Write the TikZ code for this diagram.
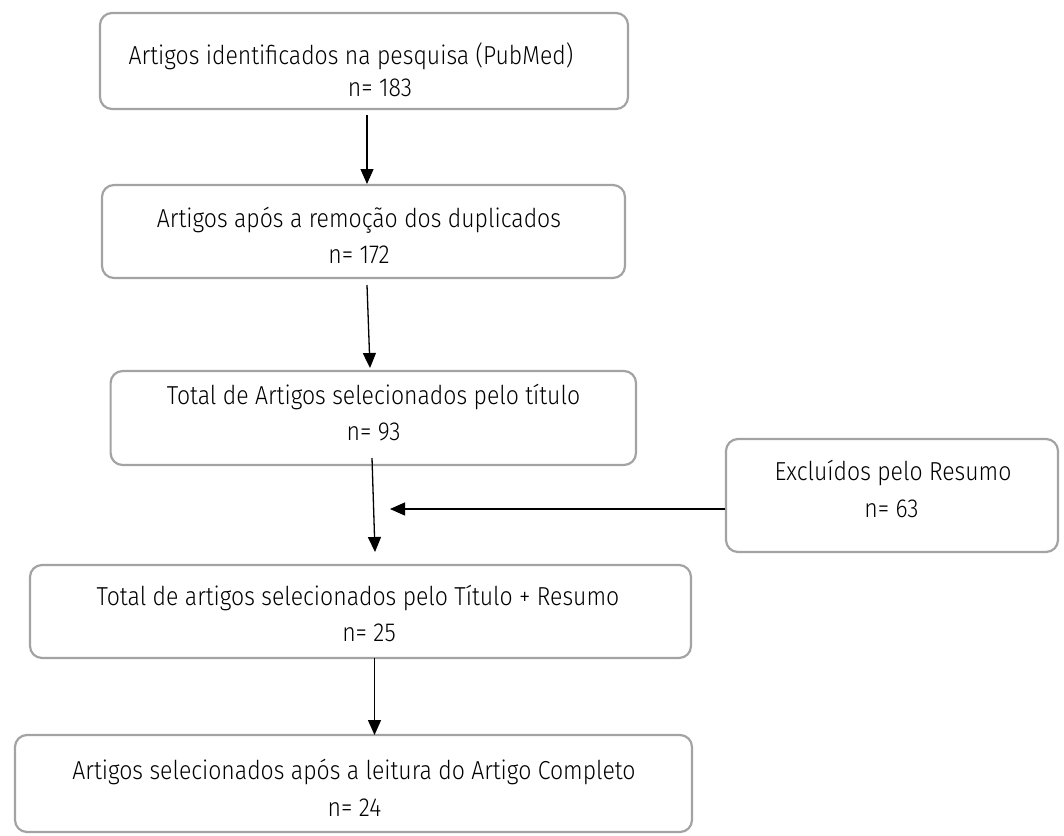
\documentclass[tikz,border=0pt]{standalone}
\usepackage{fontspec}
\setmainfont{Fira Sans}[UprightFont=* Light, FakeStretch=0.885]
\usetikzlibrary{arrows.meta}
\tikzset{
  flowbox/.style={draw=black!36, line width=2.2pt, rounded corners=12pt, fill=none},
  linetxt/.style={anchor=base, inner sep=0pt, font=\fontsize{26}{30}\selectfont},
  flowarrow/.style={draw=black, line width=1.3pt, -{Triangle[length=15pt,width=13pt]}}
}
\begin{document}
\begin{tikzpicture}[x=1pt,y=-1pt]
\useasboundingbox (0,0) rectangle (1064,835);
% boxes
\draw[flowbox] (100,13) rectangle (628,109);
\draw[flowbox] (102,185) rectangle (625,278);
\draw[flowbox] (110.6,371) rectangle (636,465);
\draw[flowbox] (726,439) rectangle (1058,552);
\draw[flowbox] (30,565) rectangle (691,658);
\draw[flowbox] (15,735) rectangle (692,832);
% texts
\node[linetxt] (t1a) at (351,64) {Artigos identificados na pesquisa (PubMed)};
\node[linetxt] (t1b) at (380,96) {n= 183};
\node[linetxt] (t2a) at (359,227) {Artigos após a remoção dos duplicados};
\node[linetxt] (t2b) at (359,263) {n= 172};
\node[linetxt] (t3a) at (373.5,404) {Total de Artigos selecionados pelo título};
\node[linetxt] (t3b) at (373.5,440) {n= 93};
\node[linetxt] (t4a) at (893,480) {Excluídos pelo Resumo};
\node[linetxt] (t4b) at (891.5,517) {n= 63};
\node[linetxt] (t5a) at (358,605) {Total de artigos selecionados pelo Título + Resumo};
\node[linetxt] (t5b) at (369,641) {n= 25};
\node[linetxt] (t6a) at (354,779) {Artigos selecionados após a leitura do Artigo Completo};
\node[linetxt] (t6b) at (354.5,816) {n= 24};
% connector endpoints
\coordinate (a1s) at (367,115);
\coordinate (a1e) at (367,184);
\coordinate (a2s) at (367,285);
\coordinate (a2e) at (370,368);
\coordinate (a3s) at (372,458);
\coordinate (a3e) at (375,552);
\coordinate (a4s) at (725,509);
\coordinate (a4e) at (390,509);
\coordinate (a5s) at (374.5,658);
\coordinate (a5e) at (374.5,735);
\draw[flowarrow] (a1s) -- (a1e);
\draw[flowarrow] (a2s) -- (a2e);
\draw[flowarrow] (a3s) -- (a3e);
\draw[flowarrow] (a4s) -- (a4e);
\draw[flowarrow] (a5s) -- (a5e);
\end{tikzpicture}
\end{document}
